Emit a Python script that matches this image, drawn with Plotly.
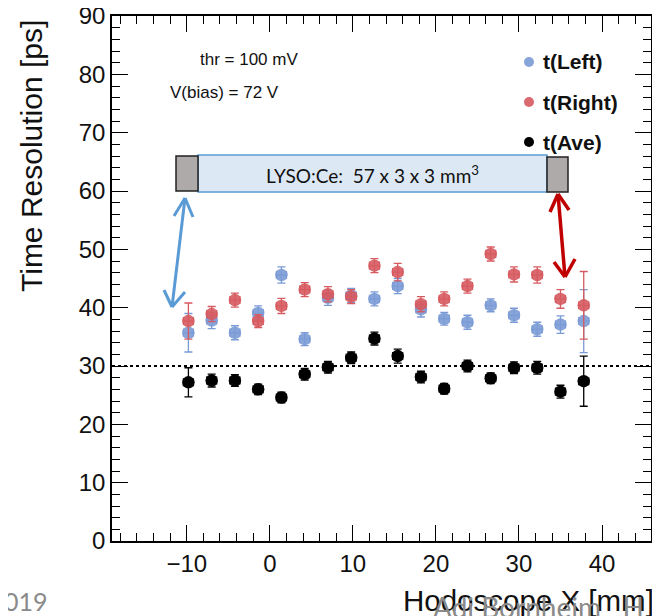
import plotly.graph_objects as go

# ---------------- data ----------------
x_mm = [-9.8, -7.0, -4.2, -1.4, 1.4, 4.2, 7.0, 9.8, 12.6, 15.4, 18.2, 21.0, 23.8, 26.6, 29.4, 32.2, 35.0, 37.8]
x_err = [0.6] * 18

t_left = [35.7, 37.8, 35.7, 39.1, 45.6, 34.6, 41.7, 42.1, 41.5, 43.7, 39.7, 38.1, 37.5, 40.4, 38.7, 36.3, 37.1, 37.7]
t_left_err = [3.3, 1.4, 1.2, 1.2, 1.4, 1.1, 1.3, 1.2, 1.2, 1.3, 1.3, 1.1, 1.2, 1.1, 1.2, 1.2, 1.5, 5.4]

t_right = [37.7, 38.9, 41.3, 37.7, 40.3, 43.1, 42.3, 41.9, 47.2, 46.1, 40.6, 41.5, 43.7, 49.2, 45.7, 45.6, 41.5, 40.4]
t_right_err = [3.1, 1.3, 1.2, 1.1, 1.3, 1.2, 1.3, 1.2, 1.2, 1.5, 1.3, 1.2, 1.2, 1.2, 1.3, 1.4, 1.6, 5.8]

t_ave = [27.2, 27.5, 27.5, 26.0, 24.6, 28.6, 29.8, 31.4, 34.7, 31.7, 28.1, 26.1, 30.0, 27.9, 29.7, 29.7, 25.6, 27.4]
t_ave_err = [2.5, 1.1, 1.0, 0.9, 0.9, 1.0, 1.0, 1.0, 1.1, 1.2, 1.0, 0.9, 1.0, 0.9, 1.0, 1.1, 1.1, 4.3]

series_names = ["t(Left)", "t(Right)", "t(Ave)"]
reference_level = 30

# ---------------- layout geometry ----------------
PAGE_OFF = 8                      # default body margin of the html page
W, H = 660 - PAGE_OFF, 616 - PAGE_OFF
L, R, T, B = 112, 651, 16, 541    # plot area in window pixels
XR = [-19.0, 45.9]
YR = [0, 90]

BLUE = "#7b9bd6"
RED = "#d65a5f"
BLACK = "#000000"


def px(xp):
    return (xp - L) / (R - L)


def py(yp):
    return (B - yp) / (B - T)


fig = go.Figure()

for yv, ev, col, name, op in [
    (t_left, t_left_err, BLUE, series_names[0], 0.9),
    (t_right, t_right_err, RED, series_names[1], 0.9),
    (t_ave, t_ave_err, BLACK, series_names[2], 1.0),
]:
    fig.add_trace(go.Scatter(
        x=x_mm, y=yv, mode="markers", name=name,
        marker=dict(color=col, size=12.5, opacity=op, line=dict(width=0)),
        error_y=dict(type="data", array=ev, visible=True, color=col, thickness=1.3, width=4),
        error_x=dict(type="data", array=x_err, visible=True, color=col, thickness=1.3, width=4),
    ))

shapes = []
# dotted reference line
shapes.append(dict(type="line", xref="paper", yref="y", x0=0, x1=1.01, y0=reference_level, y1=reference_level,
                   line=dict(color="black", width=2, dash="dot")))

# crystal drawing
shapes.append(dict(type="rect", xref="paper", yref="paper", x0=px(198), x1=px(547), y0=py(192), y1=py(155),
                   fillcolor="#dde8f5", line=dict(color="#5b9bd5", width=1.5)))
shapes.append(dict(type="rect", xref="paper", yref="paper", x0=px(176), x1=px(198), y0=py(191), y1=py(156),
                   fillcolor="#aeaaaa", line=dict(color="#222222", width=1.5)))
shapes.append(dict(type="rect", xref="paper", yref="paper", x0=px(547), x1=px(568), y0=py(192), y1=py(157),
                   fillcolor="#aeaaaa", line=dict(color="#222222", width=1.5)))


def arrow(p_top, p_bot, arms_top, arms_bot, color, w):
    out = []
    segs = [(p_top, p_bot)] + [(p_top, a) for a in arms_top] + [(p_bot, a) for a in arms_bot]
    for a, b in segs:
        out.append(dict(type="line", xref="paper", yref="paper",
                        x0=px(a[0]), y0=py(a[1]), x1=px(b[0]), y1=py(b[1]),
                        line=dict(color=color, width=w)))
    return out


shapes += arrow((185, 198), (172, 307), [(174, 216), (193, 217)], [(164, 290), (185, 292)], "#5b9bd5", 3)
shapes += arrow((558, 194), (565, 277), [(550, 212), (569, 210)], [(554, 262), (575, 259)], "#c00000", 3.5)

# legend markers
for yy, col in [(62, BLUE), (102, RED), (142, BLACK)]:
    shapes.append(dict(type="circle", xref="paper", yref="paper",
                       x0=px(524), x1=px(534), y0=py(yy + 5), y1=py(yy - 5),
                       fillcolor=col, line=dict(width=0), opacity=0.9 if col != BLACK else 1))

ann = []
SANS = "Liberation Sans, Arial, sans-serif"


def text(x, y, s, size, family=SANS, color="#111111", xa="center", ya="middle", angle=0):
    ann.append(dict(xref="paper", yref="paper", x=px(x), y=py(y), xanchor=xa, yanchor=ya,
                    text=s, showarrow=False, textangle=angle,
                    font=dict(family=family, size=size, color=color)))


for yy, name in [(62, series_names[0]), (102, series_names[1]), (142, series_names[2])]:
    text(541, yy, "<b>%s</b>" % name, 21, xa="left")

text(249, 60, "thr = 100 mV", 17)
text(224, 92, "V(bias) = 72 V", 17)
text(372, 174, "LYSO:Ce:  57 x 3 x 3 mm<sup>3</sup>", 19, family="Lato, Open Sans, sans-serif")

# axis titles (ROOT-style, aligned to the end of the axis)
text(31, 18, "Time Resolution [ps]", 30, ya="top", angle=-90)
text(656, 600, "Hodoscope X [mm]", 29.5, xa="right")

# slide footer remnants
text(2, 601, "019", 25, family="Lato, sans-serif", color="#8a8a8a", xa="left")
text(431, 588, "Adi Bornheim   H", 28, family="Lato, sans-serif", color="#8a8a8a", xa="left", ya="top")

axis_common = dict(
    showgrid=False, zeroline=False, showline=True, linecolor="black", linewidth=1.5,
    mirror="allticks", ticks="inside", ticklen=16, tickwidth=1.2, tickcolor="black",
    tickfont=dict(family=SANS, size=24, color="#111111"),
    ticklabeloverflow="allow",
    minor=dict(ticks="inside", ticklen=8, tickwidth=1.2, tickcolor="black", showgrid=False, dtick=2),
)

fig.update_layout(
    width=W, height=H,
    margin=dict(l=L - PAGE_OFF, r=660 - R, t=T - PAGE_OFF, b=616 - B, autoexpand=False),
    paper_bgcolor="white", plot_bgcolor="white",
    showlegend=False,
    xaxis=dict(range=XR, tick0=0, dtick=10, **axis_common),
    yaxis=dict(range=YR, tick0=0, dtick=10, **axis_common),
    shapes=shapes,
    annotations=ann,
)

fig.write_html("out.html")
